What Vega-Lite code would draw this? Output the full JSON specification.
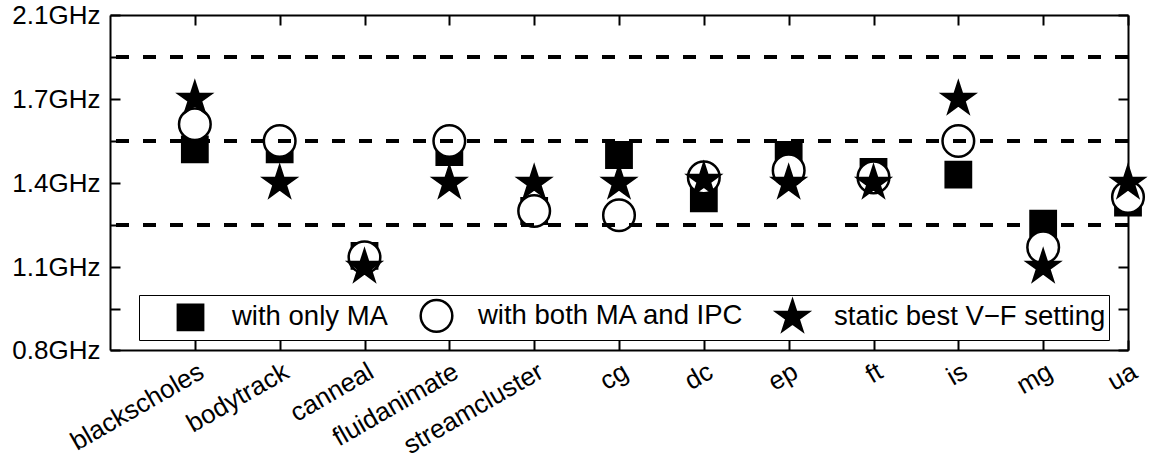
{
  "$schema": "https://vega.github.io/schema/vega-lite/v6.json",
  "width": 1018,
  "height": 335,
  "autosize": {"type": "none"},
  "padding": {"left": 110, "top": 15, "right": 21, "bottom": 110},
  "background": "white",
  "config": {
    "view": {"stroke": null},
    "font": "Liberation Sans",
    "axis": {
      "domainColor": "black",
      "domainWidth": 2,
      "tickColor": "black",
      "tickWidth": 2,
      "tickSize": -10,
      "grid": false,
      "labelFont": "Liberation Sans",
      "labelFontSize": 26,
      "labelColor": "black",
      "title": null
    }
  },
  "datasets": {
    "freq": [
      {"benchmark": "blackscholes", "series": "with only MA", "ghz": 1.52},
      {"benchmark": "bodytrack", "series": "with only MA", "ghz": 1.52},
      {"benchmark": "canneal", "series": "with only MA", "ghz": 1.14},
      {"benchmark": "fluidanimate", "series": "with only MA", "ghz": 1.51},
      {"benchmark": "streamcluster", "series": "with only MA", "ghz": 1.3},
      {"benchmark": "cg", "series": "with only MA", "ghz": 1.5},
      {"benchmark": "dc", "series": "with only MA", "ghz": 1.345},
      {"benchmark": "ep", "series": "with only MA", "ghz": 1.5},
      {"benchmark": "ft", "series": "with only MA", "ghz": 1.44},
      {"benchmark": "is", "series": "with only MA", "ghz": 1.43},
      {"benchmark": "mg", "series": "with only MA", "ghz": 1.255},
      {"benchmark": "ua", "series": "with only MA", "ghz": 1.33},
      {"benchmark": "blackscholes", "series": "with both MA and IPC", "ghz": 1.61},
      {"benchmark": "bodytrack", "series": "with both MA and IPC", "ghz": 1.55},
      {"benchmark": "canneal", "series": "with both MA and IPC", "ghz": 1.135},
      {"benchmark": "fluidanimate", "series": "with both MA and IPC", "ghz": 1.55},
      {"benchmark": "streamcluster", "series": "with both MA and IPC", "ghz": 1.3},
      {"benchmark": "cg", "series": "with both MA and IPC", "ghz": 1.285},
      {"benchmark": "dc", "series": "with both MA and IPC", "ghz": 1.42},
      {"benchmark": "ep", "series": "with both MA and IPC", "ghz": 1.445},
      {"benchmark": "ft", "series": "with both MA and IPC", "ghz": 1.42},
      {"benchmark": "is", "series": "with both MA and IPC", "ghz": 1.55},
      {"benchmark": "mg", "series": "with both MA and IPC", "ghz": 1.17},
      {"benchmark": "ua", "series": "with both MA and IPC", "ghz": 1.35},
      {"benchmark": "blackscholes", "series": "static best V−F setting", "ghz": 1.7},
      {"benchmark": "bodytrack", "series": "static best V−F setting", "ghz": 1.4},
      {"benchmark": "canneal", "series": "static best V−F setting", "ghz": 1.1},
      {"benchmark": "fluidanimate", "series": "static best V−F setting", "ghz": 1.4},
      {"benchmark": "streamcluster", "series": "static best V−F setting", "ghz": 1.4},
      {"benchmark": "cg", "series": "static best V−F setting", "ghz": 1.4},
      {"benchmark": "dc", "series": "static best V−F setting", "ghz": 1.41},
      {"benchmark": "ep", "series": "static best V−F setting", "ghz": 1.4},
      {"benchmark": "ft", "series": "static best V−F setting", "ghz": 1.4},
      {"benchmark": "is", "series": "static best V−F setting", "ghz": 1.7},
      {"benchmark": "mg", "series": "static best V−F setting", "ghz": 1.1},
      {"benchmark": "ua", "series": "static best V−F setting", "ghz": 1.4}
    ],
    "levels": [{"ghz": 1.9}, {"ghz": 1.55}, {"ghz": 1.25}]
  },
  "layer": [
    {
      "data": {"name": "freq"},
      "mark": {"type": "point", "filled": true, "opacity": 1, "strokeWidth": 2.5, "size": 1000},
      "encoding": {
        "x": {
          "field": "benchmark",
          "type": "nominal",
          "scale": {
            "type": "point",
            "padding": 0.5,
            "align": 1,
            "domain": ["blackscholes", "bodytrack", "canneal", "fluidanimate", "streamcluster", "cg", "dc", "ep", "ft", "is", "mg", "ua"]
          },
          "axis": {"orient": "bottom", "labelAngle": -30, "labelPadding": 18}
        },
        "y": {
          "field": "ghz",
          "type": "quantitative",
          "scale": {"domain": [0.8, 1.1, 1.4, 1.7, 2.1], "range": [335, 252, 168, 84, 0], "nice": false, "zero": false},
          "axis": {
            "orient": "left",
            "values": [0.8, 0.95, 1.1, 1.25, 1.4, 1.55, 1.7, 1.9, 2.1],
            "labelExpr": "(datum.value == 0.95 || datum.value == 1.25 || datum.value == 1.55 || datum.value == 1.9) ? '' : format(datum.value, '.1f') + 'GHz'",
            "labelOverlap": false,
            "labelFlush": false,
            "labelPadding": 20
          }
        },
        "shape": {
          "field": "series",
          "type": "nominal",
          "scale": {
            "domain": ["with only MA", "with both MA and IPC", "static best V−F setting"],
            "range": [
              "M-0.8,-0.8H0.8V0.8H-0.8Z",
              "circle",
              "M0,-1.05L0.236,-0.324L0.999,-0.324L0.381,0.124L0.617,0.849L0,0.401L-0.617,0.849L-0.381,0.124L-0.999,-0.324L-0.236,-0.324Z"
            ]
          },
          "legend": {
            "orient": "none",
            "legendX": 29,
            "legendY": 280,
            "direction": "horizontal",
            "title": null,
            "padding": 3,
            "strokeColor": "black",
            "fillColor": "white",
            "labelFont": "Liberation Sans",
            "labelFontSize": 27.5,
            "labelColor": "black",
            "labelLimit": 0,
            "labelOffset": 24,
            "symbolOffset": 31,
            "columnPadding": 0,
            "symbolSize": 1000,
            "symbolStrokeColor": "black",
            "symbolStrokeWidth": 2.5,
            "symbolOpacity": 1,
            "encode": {
              "legend": {"update": {"strokeWidth": {"value": 2}}},
              "symbols": {"update": {"stroke": {"value": "black"}, "strokeWidth": {"value": 2.5}, "strokeOpacity": {"value": 1}, "opacity": {"value": 1}}}
            }
          }
        },
        "fill": {
          "field": "series",
          "type": "nominal",
          "scale": {"domain": ["with only MA", "with both MA and IPC", "static best V−F setting"], "range": ["black", "white", "black"]}
        },
        "stroke": {
          "field": "series",
          "type": "nominal",
          "scale": {"domain": ["with only MA", "with both MA and IPC", "static best V−F setting"], "range": ["black", "black", "black"]}
        }
      }
    },
    {
      "data": {"name": "levels"},
      "mark": {"type": "rule", "color": "black", "strokeWidth": 4, "strokeDash": [13, 14]},
      "encoding": {
        "y": {"field": "ghz", "type": "quantitative", "axis": null}
      }
    },
    {
      "data": {"name": "freq"},
      "mark": {"type": "point", "opacity": 0},
      "encoding": {
        "x": {"field": "benchmark", "type": "nominal", "axis": {"orient": "top", "labels": false}},
        "y": {
          "field": "ghz",
          "type": "quantitative",
          "axis": {"orient": "right", "labels": false, "values": [0.8, 0.95, 1.1, 1.25, 1.4, 1.55, 1.7, 1.9, 2.1]}
        }
      }
    }
  ],
  "resolve": {"axis": {"x": "independent", "y": "independent"}}
}
